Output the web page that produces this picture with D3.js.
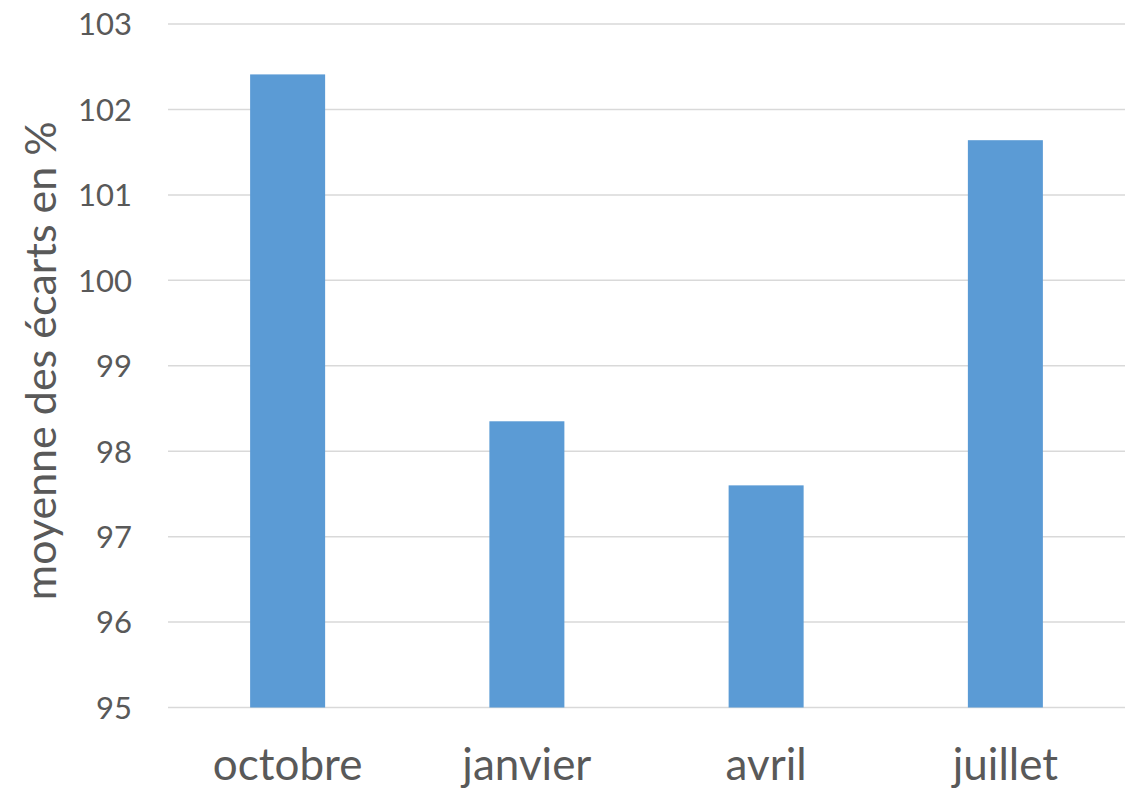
<!DOCTYPE html>
<html>
<head>
<meta charset="utf-8">
<script src="https://cdn.jsdelivr.net/npm/d3@7"></script>
<style>
  body { margin: 0; background: #fff; }
  text { font-family: Lato, "Open Sans", sans-serif; fill: #595959; }
</style>
</head>
<body>
<div id="chart"></div>
<script>
const WIDTH = 1145, HEIGHT = 791;

// data
const months = ["octobre", "janvier", "avril", "juillet"];
const values = [102.41, 98.35, 97.6, 101.64];
const yTicks = [95, 96, 97, 98, 99, 100, 101, 102, 103];
const yLabel = "moyenne des écarts en %";

const LEFT = 168, RIGHT = 1125, TOP = 24, BOTTOM = 707.5;

const svg = d3.select("#chart").append("svg").attr("width", WIDTH).attr("height", HEIGHT)

const x_scale = d3.scaleBand().range([LEFT, RIGHT]).domain(months).paddingInner(0.6865).paddingOuter(0.34325)
const y_scale = d3.scaleLinear().range([BOTTOM, TOP]).domain([95, 103])

// gridlines
svg.append("g").selectAll("line").data(yTicks).enter().append("line")
  .attr("x1", LEFT).attr("x2", RIGHT)
  .attr("y1", d => y_scale(d)).attr("y2", d => y_scale(d))
  .attr("stroke", "#d9d9d9").attr("stroke-width", 1.5)

// bars
svg.append("g").selectAll("rect").data(months).enter().append("rect")
  .attr("x", d => x_scale(d)).attr("width", x_scale.bandwidth())
  .attr("y", (d, i) => y_scale(values[i]))
  .attr("height", (d, i) => y_scale(95) - y_scale(values[i]))
  .attr("fill", "#5b9bd5")

// y axis labels
const gen_y = d3.axisLeft(y_scale).tickValues(yTicks).tickSize(0).tickPadding(0)
const yg = svg.append("g").attr("transform", "translate(132,0)").call(gen_y)
yg.select(".domain").remove()
yg.selectAll("text").style("font-size", "31px").attr("dy", "0.35em")

// x axis labels (baseline kept high enough so the j descender stays inside)
const gen_x = d3.axisBottom(x_scale).tickSize(0).tickPadding(0)
const xg = svg.append("g").attr("transform", "translate(0,780)").call(gen_x)
xg.select(".domain").remove()
xg.selectAll("text").style("font-size", "44px").attr("dy", "0")

// axis title
svg.append("text").attr("transform", "rotate(270)")
  .attr("x", -(TOP + BOTTOM) / 2 + 5).attr("y", 56)
  .attr("text-anchor", "middle").style("font-size", "43px").text(yLabel)
</script>
</body>
</html>
